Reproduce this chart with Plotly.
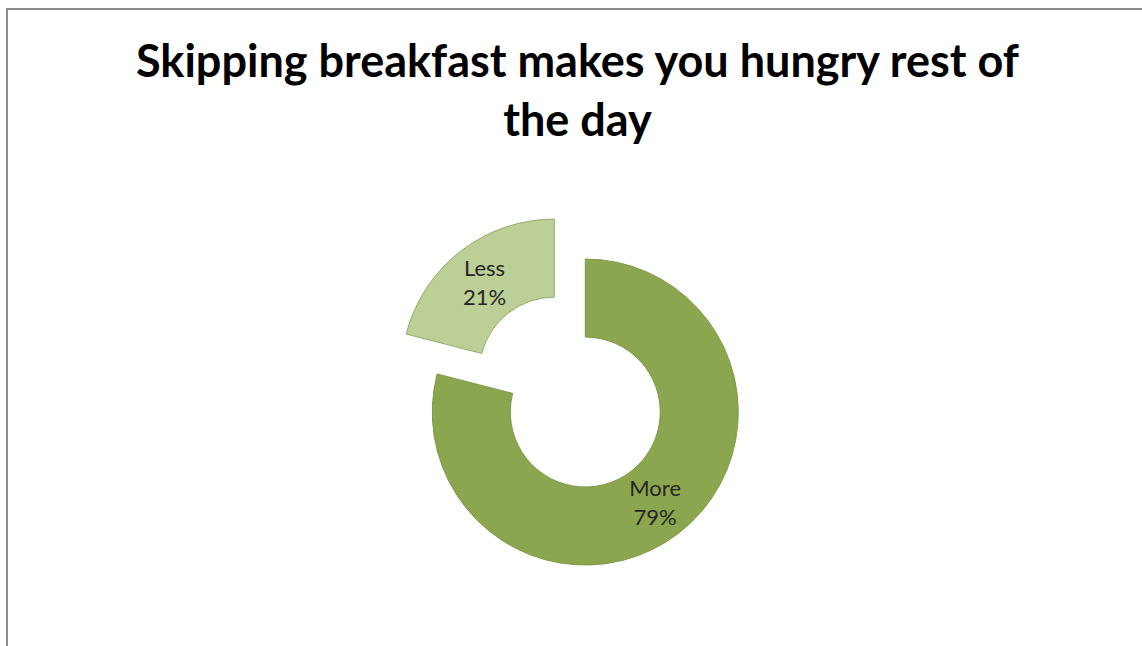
import plotly.graph_objects as go

# Survey answers for the donut
categories = ["More", "Less"]
shares = [79, 21]
slice_colors = ["#8BA64E", "#BBCF96"]
outline_colors = ["#7F9A48", "#93AD68"]
pull_out = [0, 0.33]

chart_title = "Skipping breakfast makes you hungry rest of<br>the day"

fig = go.Figure(
    go.Pie(
        labels=categories,
        values=shares,
        sort=False,
        direction="clockwise",
        rotation=0,
        hole=0.49,
        pull=pull_out,
        marker=dict(colors=slice_colors, line=dict(color=outline_colors, width=1)),
        texttemplate="%{label}<br>%{percent:.0%}",
        textposition="inside",
        insidetextorientation="horizontal",
        textfont=dict(family="Lato", size=22, color="#262626"),
        domain=dict(x=[0.30, 0.725], y=[0.0472, 0.6772]),
        showlegend=False,
        hoverinfo="label+percent",
    )
)

fig.update_layout(
    width=1142,
    height=646,
    margin=dict(l=0, r=0, t=0, b=0),
    paper_bgcolor="white",
    plot_bgcolor="white",
    annotations=[
        dict(
            text=chart_title,
            xref="paper",
            yref="paper",
            x=0.506,
            xanchor="center",
            y=1 - 31 / 646,
            yanchor="top",
            showarrow=False,
            align="center",
            font=dict(family="Lato", size=45, color="#000000", weight="bold"),
        )
    ],
    shapes=[
        dict(
            type="rect",
            xref="paper",
            yref="paper",
            x0=7 / 1142,
            x1=1.05,
            y0=-0.05,
            y1=1 - 9 / 646,
            line=dict(color="#8C8C8C", width=2),
            fillcolor="rgba(0,0,0,0)",
        )
    ],
)

fig.write_html("out.html")
